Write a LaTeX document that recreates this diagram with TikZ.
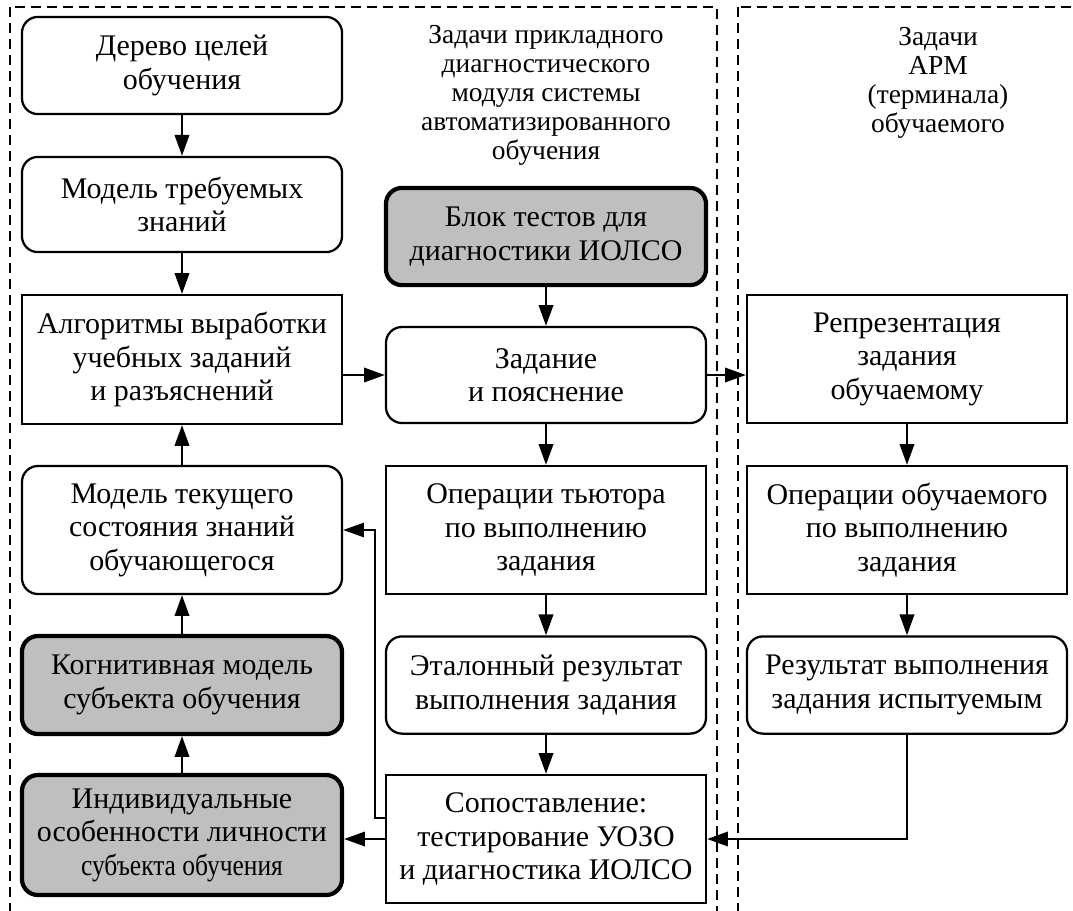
\documentclass[tikz,border=0pt]{standalone}
\usepackage{fontspec}
\setmainfont{Liberation Serif}
\usepackage{graphicx}
\usetikzlibrary{arrows.meta}

\begin{document}
\begin{tikzpicture}[x=0.025cm, y=-0.025cm,
    box/.style = {draw, line width=1.6pt, align=center, inner sep=2pt, minimum width=8cm, font=\fontsize{21.3}{23.8}\selectfont},
    rbox/.style = {box, rounded corners=0.4cm},
    gbox/.style = {rbox, fill=black!25, line width=3pt},
    head/.style = {align=center, font=\fontsize{19.5}{20.6}\selectfont},
    frame/.style = {draw, line width=1pt, dash pattern=on 0.25cm off 0.15cm},
    arr/.style = {draw, line width=1.6pt, -{Triangle[length=0.52cm, width=0.36cm]}},
    fb/.style = {draw, line width=1pt, -{Triangle[length=0.52cm, width=0.36cm]}}]
    \useasboundingbox (0,0) rectangle (1073,910);
    % frames
    \path[frame](10,7)rectangle(717,940);
    \path[frame](738,7)rectangle(1100,940);
    % headers
    \node[head](h1)at(546,95){Задачи прикладного\\диагностического\\модуля системы\\автоматизированного\\обучения};
    \node[head](h2)at(938,83){Задачи\\АРМ\\(терминала)\\обучаемого};
    % left column
    \node[rbox, minimum height=2.43cm](tree)at(182,65.5){Дерево целей\\обучения};
    \node[rbox, minimum height=2.38cm](req)at(182,204.5){Модель требуемых\\знаний};
    \node[box, minimum height=3.22cm](alg)at(182,359.5){Алгоритмы выработки\\учебных заданий\\и разъяснений};
    \node[rbox, minimum height=3.2cm](cur)at(182,530){Модель текущего\\состояния знаний\\обучающегося};
    \node[gbox, minimum height=2.45cm](cog)at(182,685){Когнитивная модель\\субъекта обучения};
    \node[gbox, minimum height=3cm](ind)at(182,835){Индивидуальные\\особенности личности\\\scalebox{0.85}[1]{субъекта обучения}};
    % middle column
    \node[gbox, minimum height=2.43cm](test)at(546,236.5){Блок тестов для\\диагностики ИОЛСО};
    \node[rbox, minimum height=2.4cm](task)at(546,375){Задание\\и пояснение};
    \node[box, minimum height=3.2cm](tut)at(546,530){Операции тьютора\\по выполнению\\задания};
    \node[rbox, minimum height=2.43cm](ref)at(546,685){Эталонный результат\\выполнения задания};
    \node[box, minimum height=3.2cm](cmp)at(546,839){Сопоставление:\\тестирование УОЗО\\и диагностика ИОЛСО};
    % right column
    \node[box, minimum height=3.2cm](rep)at(907,359){Репрезентация\\задания\\обучаемому};
    \node[box, minimum height=3.2cm](stud)at(907,530){Операции обучаемого\\по выполнению\\задания};
    \node[rbox, minimum height=2.43cm](res)at(907,685){Результат выполнения\\задания испытуемым};
    % arrows down/up
    \path[arr](tree)to(req);
    \path[arr](req)to(alg);
    \path[arr](cur)to(alg);
    \path[arr](cog)to(cur);
    \path[arr](ind)to(cog);
    \path[arr](test)to(task);
    \path[arr](task)to(tut);
    \path[arr](tut)to(ref);
    \path[arr](ref)to(cmp);
    \path[arr](rep)to(stud);
    \path[arr](stud)to(res);
    % arrows across
    \path[arr](alg.east |- task.west)to(task.west);
    \path[arr](task.east)to(task.east -| rep.west);
    \path[arr](res.south)|-(cmp.east);
    \path[arr](cmp.west)to(ind.east |- cmp.west);
    % feedback
    \path[fb]([yshift=0.525cm]cmp.west)--++(-10,0)|-(cur.east);
\end{tikzpicture}
\end{document}
